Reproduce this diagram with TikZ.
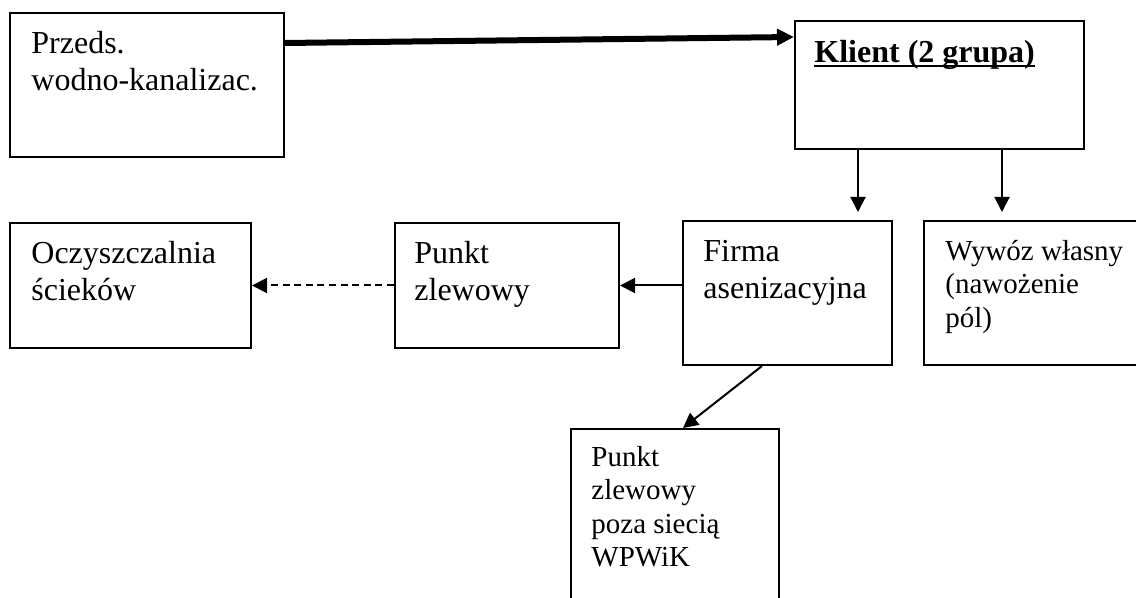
\documentclass[tikz,border=0pt]{standalone}
\usepackage{fontspec}
\setmainfont{Liberation Serif}
\usetikzlibrary{arrows.meta,calc}
\newcommand\myul[1]{\setbox0\hbox{#1}\rlap{\rule[-2.6pt]{\wd0}{1.3pt}}\box0}
\begin{document}
\begin{tikzpicture}[x=0.5pt,y=-0.5pt,
  box/.style={draw, line width=1pt, rectangle, inner sep=0pt, anchor=north west},
  txt/.style={anchor=north west, inner sep=0pt, align=left, font=\fontsize{16}{18.5}\selectfont},
  txts/.style={anchor=north west, inner sep=0pt, align=left, font=\fontsize{14.5}{16.75}\selectfont},
  arr/.style={line width=1pt, -{Triangle[length=7.5pt,width=7.5pt]}},
  thickarr/.style={line width=3pt, -{Triangle[length=8.5pt,width=8pt]}},
]
\useasboundingbox (0,0) rectangle (1136,598);
\fill[white] (0,0) rectangle (1136,598);
\clip (0,0) rectangle (1136,598);
% boxes
\node[box, minimum width=137pt, minimum height=72pt] (przeds) at (9,12) {};
\node[box, minimum width=144.5pt, minimum height=64pt] (klient) at (794,20) {};
\node[box, minimum width=120.5pt, minimum height=62.5pt] (oczy) at (9,222) {};
\node[box, minimum width=112pt, minimum height=62.5pt] (punkt) at (394,222) {};
\node[box, minimum width=104.5pt, minimum height=72pt] (firma) at (682,220) {};
\node[box, minimum width=113.5pt, minimum height=72pt] (wywoz) at (923,220) {};
\node[box, minimum width=104pt, minimum height=96pt] (wpwik) at (570,428) {};
% texts
\node[txt] (tprzeds) at ($(przeds.north west)+(22,15)$) {\strut Przeds.\\wodno-kanalizac.};
\node[txt] (tklient) at ($(klient.north west)+(20,16)$) {\strut\myul{\textbf{Klient (2 grupa)}}};
\node[txt] (toczy) at ($(oczy.north west)+(22,15)$) {\strut Oczyszczalnia\\ścieków};
\node[txt] (tpunkt) at ($(punkt.north west)+(20,15)$) {\strut Punkt\\zlewowy};
\node[txt] (tfirma) at ($(firma.north west)+(21,15)$) {\strut Firma\\asenizacyjna};
\node[txts] (twywoz) at ($(wywoz.north west)+(22,16.6)$) {\strut Wywóz własny\\(nawożenie\\pól)};
\node[txts] (twpwik) at ($(wpwik.north west)+(21,14.6)$) {\strut Punkt\\zlewowy\\poza siecią\\WPWiK};
% connectors
\draw[thickarr] ($(przeds.north east)+(0,31)$) -- ($(klient.north west)+(0,17)$);
\draw[arr, shorten >=4pt] ($(klient.south west)+(64,0)$) -- ($(firma.north west)+(176,0)$);
\draw[arr, shorten >=4pt] ($(klient.south west)+(208,0)$) -- ($(wywoz.north west)+(79,0)$);
\draw[arr] (firma.west |- punkt.east) -- (punkt.east);
\draw[arr, dash pattern=on 3.5pt off 2.3pt] (punkt.west) -- (oczy.east);
\draw[arr] ($(firma.south west)+(80,0)$) -- ($(wpwik.north west)+(113,0)$);
\end{tikzpicture}
\end{document}
